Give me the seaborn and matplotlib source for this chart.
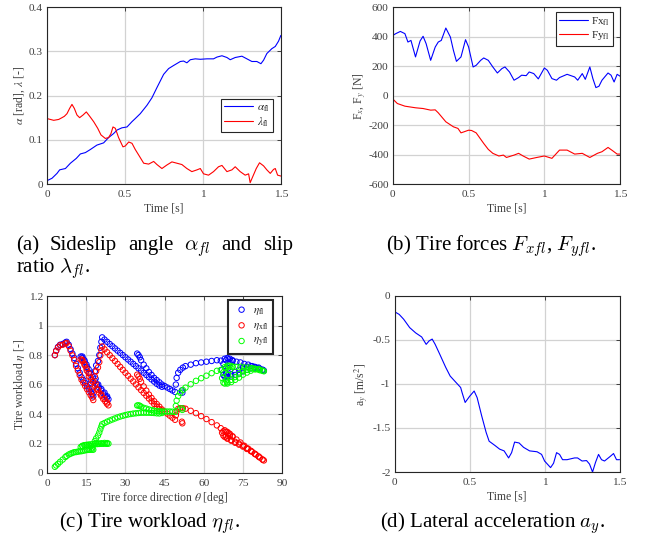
import matplotlib
matplotlib.use('Agg')
import matplotlib.pyplot as plt
from matplotlib.ticker import FormatStrFormatter
import seaborn as sns

# (a) sideslip angle and slip ratio, front left wheel
t_alpha = [0, 0.032, 0.064, 0.081, 0.118, 0.15, 0.188, 0.214, 0.246, 0.278,
           0.32, 0.363, 0.395, 0.427, 0.449, 0.48, 0.513, 0.545, 0.566, 0.598,
           0.641, 0.673, 0.705, 0.748, 0.78, 0.812, 0.855, 0.876, 0.897, 0.919,
           0.951, 0.983, 1.026, 1.068, 1.09, 1.122, 1.154, 1.175, 1.207, 1.25,
           1.282, 1.314, 1.346, 1.372, 1.389, 1.41, 1.442, 1.464, 1.485, 1.5]
alpha_fl = [0.0075, 0.013, 0.024, 0.032, 0.035, 0.047, 0.058, 0.068, 0.071, 0.078,
            0.088, 0.093, 0.105, 0.114, 0.122, 0.127, 0.129, 0.141, 0.148, 0.159,
            0.178, 0.195, 0.218, 0.248, 0.261, 0.268, 0.277, 0.278, 0.274, 0.281,
            0.283, 0.282, 0.283, 0.283, 0.287, 0.29, 0.286, 0.281, 0.286, 0.289,
            0.283, 0.277, 0.277, 0.272, 0.28, 0.295, 0.306, 0.311, 0.323, 0.336]
t_lambda = [0, 0.021, 0.043, 0.075, 0.096, 0.111, 0.128, 0.145, 0.16, 0.175,
            0.192, 0.209, 0.231, 0.252, 0.274, 0.299, 0.325, 0.346, 0.374, 0.395,
            0.41, 0.423, 0.438, 0.459, 0.487, 0.502, 0.524, 0.545, 0.566, 0.594,
            0.62, 0.652, 0.684, 0.705, 0.737, 0.769, 0.801, 0.833, 0.865, 0.897,
            0.929, 0.962, 0.983, 1.004, 1.036, 1.068, 1.10, 1.122, 1.154, 1.186,
            1.207, 1.239, 1.271, 1.293, 1.303, 1.32, 1.342, 1.363, 1.389, 1.41,
            1.432, 1.453, 1.464, 1.479, 1.5]
lambda_fl = [0.148, 0.146, 0.144, 0.146, 0.150, 0.153, 0.159, 0.171, 0.180, 0.171,
             0.156, 0.150, 0.156, 0.163, 0.153, 0.141, 0.126, 0.111, 0.103, 0.105,
             0.114, 0.129, 0.126, 0.105, 0.084, 0.086, 0.095, 0.092, 0.078, 0.062,
             0.047, 0.045, 0.051, 0.044, 0.035, 0.043, 0.050, 0.047, 0.044, 0.035,
             0.028, 0.032, 0.035, 0.023, 0.020, 0.028, 0.039, 0.042, 0.028, 0.032,
             0.039, 0.028, 0.020, 0.023, 0.003, 0.017, 0.035, 0.048, 0.041, 0.032,
             0.024, 0.033, 0.035, 0.020, 0.018]

# (b) tire forces
t_fx = [0, 0.02, 0.05, 0.08, 0.1, 0.12, 0.15, 0.18, 0.2, 0.22,
        0.25, 0.28, 0.3, 0.32, 0.35, 0.38, 0.4, 0.42, 0.45, 0.48,
        0.5, 0.53, 0.55, 0.58, 0.6, 0.63, 0.66, 0.69, 0.72, 0.74,
        0.77, 0.8, 0.83, 0.85, 0.88, 0.9, 0.93, 0.96, 1.0, 1.02,
        1.05, 1.08, 1.1, 1.15, 1.2, 1.22, 1.25, 1.27, 1.3, 1.32,
        1.34, 1.36, 1.38, 1.42, 1.44, 1.46, 1.48, 1.5]
fx_fl = [408, 420, 435, 420, 363, 374, 262, 370, 402, 352,
         239, 329, 363, 374, 458, 397, 307, 232, 262, 379,
         330, 194, 205, 239, 255, 239, 194, 153, 183, 194,
         160, 104, 122, 138, 135, 160, 149, 113, 187, 171,
         115, 104, 122, 144, 126, 104, 149, 110, 194, 115,
         54, 63, 104, 153, 138, 92, 144, 131]
t_fy = [0, 0.03, 0.08, 0.15, 0.2, 0.25, 0.28, 0.3, 0.35, 0.4,
        0.43, 0.45, 0.47, 0.5, 0.52, 0.55, 0.6, 0.63, 0.66, 0.7,
        0.73, 0.75, 0.8, 0.83, 0.86, 0.9, 0.95, 1.0, 1.05, 1.1,
        1.15, 1.2, 1.25, 1.3, 1.35, 1.38, 1.42, 1.45, 1.48, 1.5]
fy_fl = [-23, -54, -72, -83, -88, -99, -97, -117, -178, -212,
         -223, -253, -246, -235, -237, -253, -325, -365, -392, -410,
         -404, -420, -404, -392, -410, -431, -420, -410, -426, -370,
         -370, -397, -392, -420, -392, -381, -352, -374, -397, -397]

# (c) tire workload vs tire force direction
theta = [3.0, 3.5, 4.2, 5.0, 6.0, 7.0, 7.5,
         8.3, 9.0, 9.7, 10.4, 11.1, 11.8, 12.5, 13.2, 13.9, 14.6, 15.3, 16.0, 16.7, 17.3, 17.7,
         17.4, 16.8, 16.0, 15.2, 14.4, 13.6, 12.9,
         13.5, 14.3, 15.1, 15.9, 16.7, 17.5, 18.3, 19.1, 19.9, 20.7, 21.5, 22.3, 22.9, 23.5,
         23.0, 22.0, 20.8, 19.6, 18.6, 18.3, 18.8, 19.5, 20.0, 20.4, 20.8, 21.1,
         22, 23, 24, 25, 26, 27, 28, 29, 30, 31, 32, 33, 34, 35, 36, 37, 38, 39, 40, 41, 42, 43, 44,
         34.5, 35.0, 35.5, 36, 37, 38, 39, 40, 41, 42, 43, 44, 45, 46, 47, 48, 49,
         49.3, 49.6, 50.2, 51.0, 51.6, 51.8, 52.0, 53.0, 55, 57, 59, 61, 63, 65, 66.5, 68, 69, 70, 71,
         70.0, 69.3, 68.5, 68.0, 69.0, 70.5, 72.0, 73.5, 75.0, 76.5, 78.0, 79.5, 81.0, 82.5, 83.0,
         81.5, 80.0, 78.5, 77.0, 75.5, 74.0, 72.5, 71.0, 69.5, 68.5, 67.5, 67.0, 67.5, 69.0, 70.5,
         72.0, 73.5, 75.0, 76.5, 78.0, 79.5, 81.0, 82.5]
eta_fl = [0.80, 0.83, 0.855, 0.87, 0.875, 0.885, 0.89,
          0.87, 0.84, 0.81, 0.78, 0.74, 0.71, 0.68, 0.65, 0.63, 0.61, 0.59, 0.57, 0.55, 0.535, 0.52,
          0.58, 0.63, 0.68, 0.72, 0.755, 0.78, 0.79,
          0.79, 0.765, 0.735, 0.705, 0.675, 0.65, 0.625, 0.60, 0.58, 0.56, 0.54, 0.525, 0.51, 0.50,
          0.52, 0.545, 0.57, 0.60, 0.64, 0.69, 0.73, 0.76, 0.80, 0.85, 0.89, 0.92,
          0.905, 0.89, 0.875, 0.86, 0.845, 0.83, 0.815, 0.80, 0.785, 0.77, 0.755, 0.74, 0.725, 0.71,
          0.695, 0.68, 0.665, 0.65, 0.635, 0.62, 0.605, 0.593, 0.585,
          0.81, 0.80, 0.785, 0.765, 0.735, 0.71, 0.685, 0.665, 0.645, 0.63, 0.615, 0.60, 0.59, 0.58,
          0.57, 0.56, 0.55,
          0.60, 0.645, 0.68, 0.70, 0.56, 0.545, 0.715, 0.725, 0.735, 0.745, 0.75, 0.755, 0.76, 0.765,
          0.762, 0.775, 0.78, 0.775, 0.765,
          0.745, 0.71, 0.675, 0.655, 0.65, 0.655, 0.665, 0.675, 0.69, 0.70, 0.71, 0.715, 0.71, 0.70, 0.695,
          0.705, 0.715, 0.725, 0.735, 0.74, 0.75, 0.755, 0.76, 0.77, 0.765, 0.74, 0.70, 0.665, 0.66, 0.67,
          0.685, 0.70, 0.715, 0.72, 0.725, 0.72, 0.715, 0.70]
eta_xfl = [0.799, 0.828, 0.852, 0.867, 0.870, 0.878, 0.882,
           0.861, 0.830, 0.798, 0.767, 0.726, 0.695, 0.664, 0.633, 0.612, 0.590, 0.569, 0.548, 0.527, 0.511, 0.495,
           0.553, 0.603, 0.654, 0.695, 0.731, 0.758, 0.770,
           0.768, 0.741, 0.710, 0.678, 0.647, 0.620, 0.593, 0.567, 0.545, 0.524, 0.502, 0.486, 0.470, 0.459,
           0.479, 0.505, 0.533, 0.565, 0.607, 0.655, 0.691, 0.716, 0.752, 0.797, 0.832, 0.858,
           0.839, 0.819, 0.799, 0.779, 0.760, 0.740, 0.720, 0.700, 0.680, 0.660, 0.640, 0.621, 0.601, 0.581,
           0.562, 0.543, 0.524, 0.505, 0.486, 0.468, 0.450, 0.433, 0.421,
           0.667, 0.655, 0.639, 0.619, 0.587, 0.559, 0.532, 0.509, 0.487, 0.468, 0.450, 0.431, 0.417, 0.403,
           0.389, 0.375, 0.361,
           0.391, 0.418, 0.435, 0.440, 0.348, 0.337, 0.440, 0.436, 0.422, 0.406, 0.386, 0.366, 0.345, 0.323,
           0.304, 0.290, 0.279, 0.265, 0.249,
           0.255, 0.251, 0.247, 0.245, 0.233, 0.219, 0.205, 0.192, 0.179, 0.163, 0.148, 0.130, 0.111, 0.091, 0.085,
           0.104, 0.124, 0.144, 0.165, 0.185, 0.207, 0.227, 0.247, 0.270, 0.280, 0.283, 0.273, 0.254, 0.236, 0.224,
           0.212, 0.199, 0.185, 0.168, 0.151, 0.131, 0.112, 0.091]
eta_yfl = [0.042, 0.051, 0.062, 0.076, 0.091, 0.108, 0.116,
           0.125, 0.131, 0.136, 0.141, 0.142, 0.145, 0.147, 0.148, 0.151, 0.154, 0.156, 0.157, 0.158, 0.159, 0.158,
           0.173, 0.182, 0.187, 0.189, 0.188, 0.183, 0.176,
           0.184, 0.189, 0.191, 0.193, 0.194, 0.195, 0.196, 0.196, 0.197, 0.198, 0.198, 0.199, 0.198, 0.199,
           0.203, 0.204, 0.202, 0.201, 0.204, 0.217, 0.235, 0.254, 0.274, 0.296, 0.316, 0.331,
           0.339, 0.348, 0.356, 0.363, 0.370, 0.377, 0.383, 0.388, 0.393, 0.397, 0.400, 0.403, 0.405, 0.407,
           0.409, 0.409, 0.409, 0.409, 0.408, 0.407, 0.405, 0.404, 0.407,
           0.458, 0.459, 0.456, 0.450, 0.442, 0.437, 0.431, 0.427, 0.423, 0.421, 0.419, 0.417, 0.417, 0.417,
           0.417, 0.416, 0.415,
           0.455, 0.491, 0.522, 0.544, 0.439, 0.428, 0.563, 0.579, 0.602, 0.625, 0.643, 0.660, 0.677, 0.693,
           0.699, 0.718, 0.728, 0.728, 0.723,
           0.700, 0.664, 0.628, 0.607, 0.607, 0.617, 0.632, 0.647, 0.667, 0.681, 0.694, 0.703, 0.701, 0.694, 0.690,
           0.697, 0.704, 0.711, 0.716, 0.716, 0.721, 0.720, 0.719, 0.721, 0.711, 0.684, 0.644, 0.614, 0.616, 0.632,
           0.651, 0.671, 0.691, 0.700, 0.709, 0.708, 0.706, 0.694]

# (d) lateral acceleration
t_ay = [0, 0.03, 0.06, 0.1, 0.14, 0.18, 0.21, 0.23, 0.25, 0.27,
        0.3, 0.34, 0.37, 0.4, 0.44, 0.45, 0.47, 0.5, 0.53, 0.55,
        0.58, 0.61, 0.63, 0.67, 0.7, 0.73, 0.76, 0.78, 0.8, 0.83,
        0.86, 0.9, 0.95, 0.98, 1.0, 1.04, 1.06, 1.08, 1.1, 1.12,
        1.15, 1.2, 1.22, 1.25, 1.28, 1.3, 1.32, 1.34, 1.36, 1.38,
        1.4, 1.44, 1.46, 1.48, 1.5]
a_y = [-0.18, -0.21, -0.265, -0.36, -0.42, -0.466, -0.55, -0.51, -0.49, -0.55,
       -0.66, -0.81, -0.91, -0.966, -1.04, -1.1, -1.21, -1.14, -1.08, -1.155,
       -1.36, -1.55, -1.65, -1.70, -1.74, -1.76, -1.84, -1.78, -1.66, -1.67,
       -1.72, -1.76, -1.77, -1.80, -1.875, -1.95, -1.90, -1.78, -1.80, -1.86,
       -1.86, -1.84, -1.84, -1.875, -1.87, -1.91, -2.0, -1.89, -1.80, -1.86,
       -1.875, -1.82, -1.79, -1.86, -1.86]

time_ticks = [0, 0.5, 1, 1.5]

sns.set_theme(style='whitegrid')
plt.rcParams['font.family'] = ['Liberation Serif', 'DejaVu Serif']
plt.rcParams['mathtext.fontset'] = 'stix'
plt.rcParams['axes.unicode_minus'] = False

TXT = '#404040'
LBL = 8.5


def matlab_axes(ax, xlim, ylim, xticks, yticks):
    ax.set_xlim(xlim)
    ax.set_ylim(ylim)
    ax.set_xticks(xticks)
    ax.set_yticks(yticks)
    ax.xaxis.set_major_formatter(FormatStrFormatter('%g'))
    ax.yaxis.set_major_formatter(FormatStrFormatter('%g'))
    ax.set_facecolor('white')
    ax.grid(True, color='#d2d2d2', linewidth=0.9)
    for sp in ax.spines.values():
        sp.set_visible(True)
        sp.set_color('#262626')
        sp.set_linewidth(0.8)
    ax.tick_params(direction='in', top=True, right=True, length=3, width=0.6,
                   color='#262626', labelcolor=TXT, labelsize=8.2, pad=3)
    ax.tick_params(axis='x', pad=4)


def line_legend(ax, anchor):
    leg = ax.legend(loc='upper right', bbox_to_anchor=anchor, fontsize=8, frameon=True,
                    fancybox=False, framealpha=1, edgecolor='#262626', handlelength=2.6,
                    borderpad=0.3, labelspacing=0.15, handletextpad=0.3, borderaxespad=0)
    leg.get_frame().set_linewidth(0.8)


fig = plt.figure(figsize=(6.46, 5.46), dpi=100)

# (a)
ax = fig.add_axes([0.0728, 0.663, 0.362, 0.324])
sns.lineplot(x=t_alpha, y=alpha_fl, ax=ax, color='blue', linewidth=0.8, label=r'$\alpha_{\mathrm{fl}}$')
sns.lineplot(x=t_lambda, y=lambda_fl, ax=ax, color='red', linewidth=0.8, label=r'$\lambda_{\mathrm{fl}}$')
matlab_axes(ax, (0, 1.5), (0, 0.4), time_ticks, [0, 0.1, 0.2, 0.3, 0.4])
ax.set_xlabel('Time [s]', fontsize=LBL, color=TXT, labelpad=3)
ax.set_ylabel(r'$\alpha$ [rad], $\lambda$ [-]', fontsize=LBL, color=TXT, labelpad=1)
line_legend(ax, (0.965, 0.48))

# (b)
ax = fig.add_axes([0.608, 0.663, 0.352, 0.324])
sns.lineplot(x=t_fx, y=fx_fl, ax=ax, color='blue', linewidth=0.8, label=r'Fx$_{\mathrm{fl}}$')
sns.lineplot(x=t_fy, y=fy_fl, ax=ax, color='red', linewidth=0.8, label=r'Fy$_{\mathrm{fl}}$')
matlab_axes(ax, (0, 1.5), (-600, 600), time_ticks, [-600, -400, -200, 0, 200, 400, 600])
ax.set_xlabel('Time [s]', fontsize=LBL, color=TXT, labelpad=3)
ax.set_ylabel(r'F$_x$, F$_y$ [N]', fontsize=LBL, color=TXT, labelpad=0)
line_legend(ax, (0.969, 0.973))

# (c)
ax = fig.add_axes([0.0728, 0.1337, 0.364, 0.324])
for vals, col, name in [(eta_fl, 'blue', r'$\eta_{\mathrm{fl}}$'),
                        (eta_xfl, 'red', r'$\eta_{\mathrm{xfl}}$'),
                        (eta_yfl, '#00ff00', r'$\eta_{\mathrm{yfl}}$')]:
    sns.scatterplot(x=theta, y=vals, ax=ax, color=col, facecolor='none', edgecolor=col,
                    s=15, linewidth=0.7, label=name)
matlab_axes(ax, (0, 90), (0, 1.2), [0, 15, 30, 45, 60, 75, 90], [0, 0.2, 0.4, 0.6, 0.8, 1, 1.2])
ax.set_xlabel(r'Tire force direction $\theta$ [deg]', fontsize=LBL, color=TXT, labelpad=2)
ax.set_ylabel(r'Tire workload $\eta$ [-]', fontsize=LBL, color=TXT, labelpad=1)
leg = ax.legend(loc='upper right', bbox_to_anchor=(0.963, 0.979), fontsize=8, frameon=True,
                fancybox=False, framealpha=1, edgecolor='#262626', scatterpoints=1,
                borderpad=0.45, labelspacing=0.35, handletextpad=0.2, handlelength=1.6,
                borderaxespad=0)
leg.get_frame().set_linewidth(1.5)

# (d)
ax = fig.add_axes([0.611, 0.1355, 0.348, 0.3225])
sns.lineplot(x=t_ay, y=a_y, ax=ax, color='blue', linewidth=0.8)
matlab_axes(ax, (0, 1.5), (-2, 0), time_ticks, [-2, -1.5, -1, -0.5, 0])
ax.set_xlabel('Time [s]', fontsize=LBL, color=TXT, labelpad=3)
ax.set_ylabel(r'a$_y$ [m/s$^2$]', fontsize=LBL, color=TXT, labelpad=1)

# captions
cap = dict(fontsize=15, color='black', va='baseline', math_fontfamily='cm')
# first line of (a) is justified between x=16 and x=293 px
words = ['(a)', 'Sideslip', 'angle', r'$\alpha_{fl}$', 'and', 'slip']
word_txt = [fig.text(0, 1 - 250 / 546, w, ha='left', **cap) for w in words]
renderer = fig.canvas.get_renderer()
widths = [t.get_window_extent(renderer).width for t in word_txt]
gap = (293 - 16 - sum(widths)) / (len(words) - 1)
x = 16.0
for t, w in zip(word_txt, widths):
    t.set_x(x / 646)
    x += w + gap
fig.text(16 / 646, 1 - 272 / 546, r'ratio $\lambda_{fl}$.', ha='left', **cap)
fig.text(491 / 646, 1 - 250 / 546, r'(b) Tire forces $F_{xfl}$, $F_{yfl}$.', ha='center', **cap)
fig.text(150 / 646, 1 - 527 / 546, r'(c) Tire workload $\eta_{fl}$.', ha='center', **cap)
fig.text(493 / 646, 1 - 527 / 546, r'(d) Lateral acceleration $a_y$.', ha='center', **cap)

fig.savefig('out.png', dpi=100)
plt.close(fig)
